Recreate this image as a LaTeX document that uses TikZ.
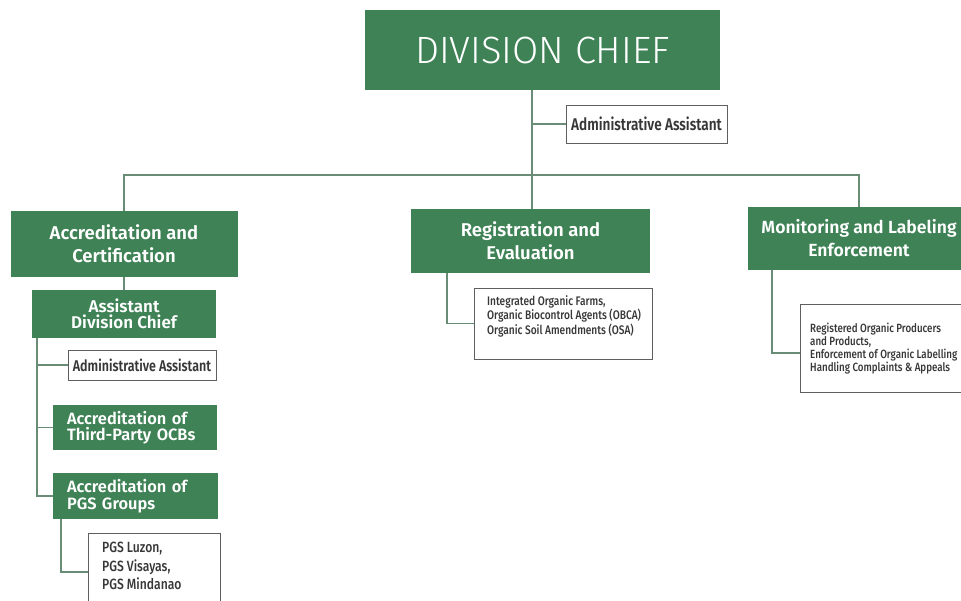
\documentclass[tikz,border=0pt]{standalone}
\usepackage{fontspec}
\setmainfont{Fira Sans}
\newfontfamily\fLight{Fira Sans Light}
\newfontfamily\fSemi{Fira Sans SemiBold}
\newfontfamily\fCondB[FakeStretch=0.8]{Fira Sans SemiBold}
\newfontfamily\fCondM[FakeStretch=0.82]{Fira Sans Medium}
\definecolor{ggreen}{RGB}{63,130,86}
\definecolor{lgreen}{RGB}{105,140,118}
\definecolor{bgray}{RGB}{95,95,95}
\definecolor{tgray}{RGB}{55,55,55}
\begin{document}
\begin{tikzpicture}[x=1pt,y=-1pt,
  gbox/.style={fill=ggreen,text=white,inner sep=0pt,align=center},
  gboxl/.style={fill=ggreen,text=white,inner ysep=0pt,inner xsep=14pt,align=left},
  wbox/.style={draw=bgray,line width=0.9pt,fill=white,inner sep=0pt,text=tgray},
  ltext/.style={inner sep=0pt,align=left,text=tgray,anchor=west},
  conn/.style={draw=lgreen,line width=1.2pt}]
\useasboundingbox (0,0) rectangle (961,601);
\fill[white] (0,0) rectangle (961,601);

% coordinates for connector lines
\coordinate (sx) at (532,0);
\coordinate (busy) at (0,175);
\coordinate (lx) at (37,0);
\coordinate (px) at (61,0);
\coordinate (py) at (0,572);
\coordinate (rx) at (447,0);
\coordinate (mx) at (772,0);
\coordinate (my) at (0,353);

% top
\node[gbox,minimum width=355pt,minimum height=80pt,
  font=\fLight\fontsize{38}{40}\selectfont] (dc) at (542.5,50) {DIVISION CHIEF};
\node[wbox,minimum width=161pt,minimum height=38pt,
  font=\fCondB\fontsize{17}{19}\selectfont] (adm1) at (646.5,124) {Administrative Assistant};

% second level
\node[gbox,minimum width=227pt,minimum height=66pt,
  font=\fSemi\fontsize{18.5}{23}\selectfont] (acc) at (124,244) {Accreditation and\\Certification};
\node[gbox,minimum width=239pt,minimum height=64pt,
  font=\fSemi\fontsize{18.5}{23}\selectfont] (reg) at (530.5,241) {Registration and\\Evaluation};
\node[gbox,minimum width=222pt,minimum height=63pt,
  font=\fSemi\fontsize{17.6}{23}\selectfont] (mon) at (859,238.5) {Monitoring and Labeling\\Enforcement};

% accreditation branch
\node[gbox,minimum width=184pt,minimum height=48pt,
  font=\fSemi\fontsize{17}{16.5}\selectfont] (adc) at (124,314) {Assistant\\Division Chief};
\node[wbox,minimum width=148pt,minimum height=30pt,
  font=\fCondB\fontsize{15.6}{18}\selectfont] (adm2) at (142,365) {Administrative Assistant};
\node[gboxl,text width=136pt,minimum height=45pt,
  font=\fSemi\fontsize{16.4}{16.5}\selectfont] (third) at (135,427.5) {Accreditation of\\Third-Party OCBs};
\node[gboxl,text width=137pt,minimum height=46pt,
  font=\fSemi\fontsize{16.4}{16.5}\selectfont] (pgs) at (135.5,496) {Accreditation of\\PGS Groups};
\node[wbox,minimum width=132pt,minimum height=82pt] (pgsl) at (154,574) {};
\node[ltext,font=\fCondM\fontsize{14.8}{18.5}\selectfont] (pgst) at (102,566) {PGS Luzon,\\PGS Visayas,\\PGS Mindanao};

% registration branch
\node[wbox,minimum width=178pt,minimum height=71pt] (reglist) at (563,323.5) {};
\node[ltext,font=\fCondM\fontsize{12.4}{14.5}\selectfont] (regt) at (487,316) {Integrated Organic Farms,\\Organic Biocontrol Agents (OBCA)\\Organic Soil Amendments (OSA)};

% monitoring branch
\node[wbox,minimum width=175pt,minimum height=88pt] (monlist) at (887.5,348) {};
\node[ltext,font=\fCondM\fontsize{11.9}{13}\selectfont] (mont) at (810,349) {Registered Organic Producers\\and Products,\\Enforcement of Organic Labelling\\Handling Complaints \& Appeals};

% connectors
\draw[conn] (dc.south -| sx) -- (reg.north -| sx);
\draw[conn] (adm1.west) -- (adm1.west -| sx);
\draw[conn] (acc.north) -- (acc.north |- busy) -- (mon.north |- busy) -- (mon.north);
\draw[conn] (acc.south) -- (adc.north);
\draw[conn] (adc.south -| lx) |- (pgs.west);
\draw[conn] (adm2.west) -- (adm2.west -| lx);
\draw[conn] (third.west) -- (third.west -| lx);
\draw[conn] (pgs.south -| px) |- (pgsl.west |- py);
\draw[conn] (reg.south -| rx) |- (reglist.west);
\draw[conn] (mon.south -| mx) |- (monlist.west |- my);
\end{tikzpicture}
\end{document}
